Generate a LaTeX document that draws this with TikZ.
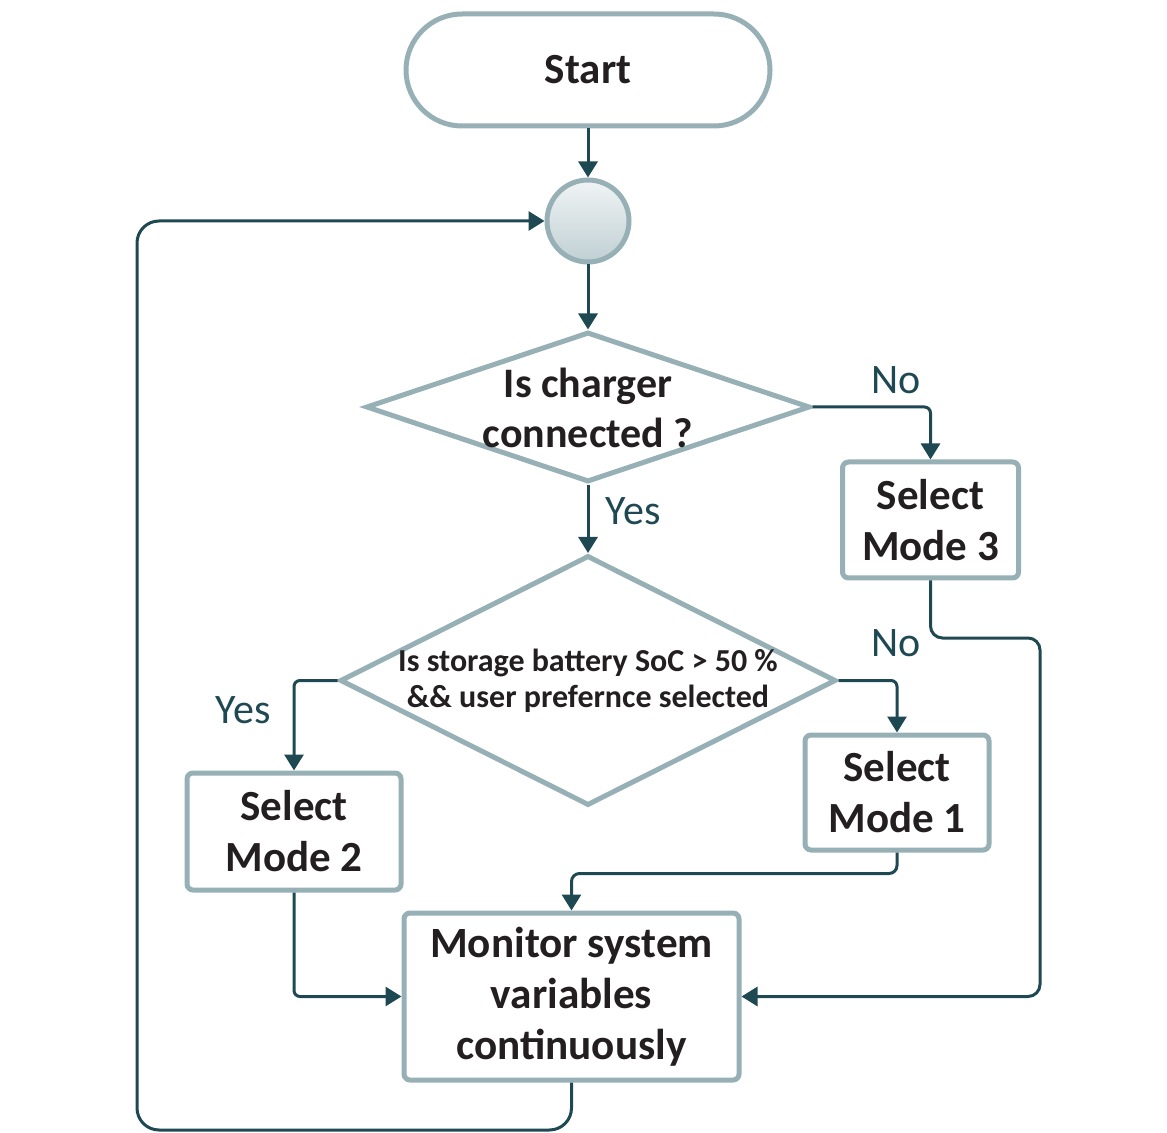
\documentclass[tikz,border=0pt]{standalone}
\usepackage{fontspec}
\setmainfont{Carlito}
\usetikzlibrary{arrows.meta,shapes.geometric}
\definecolor{boxc}{HTML}{96B0B6}
\definecolor{arrc}{HTML}{1E4852}
\definecolor{txtc}{HTML}{231F20}
\begin{document}
\begin{tikzpicture}[x=0.5pt,y=-0.5pt,
  box/.style={draw=boxc,line width=2.5pt,fill=white,rounded corners=3pt,align=center,
    font=\bfseries\fontsize{21.5}{25.5}\selectfont,text=txtc,inner sep=0pt},
  dia/.style={diamond,draw=boxc,line width=2.5pt,inner sep=0pt},
  conn/.style={draw=arrc,line width=1.5pt,-{Triangle[length=8pt,width=9.5pt]}},
  lab/.style={text=arrc,inner sep=0pt,font=\fontsize{21}{25}\selectfont}]
\useasboundingbox (0,0) rectangle (1167,1133);
% nodes
\node[box,rounded corners=28pt,minimum width=182pt,minimum height=56pt,
  font=\bfseries\fontsize{21.5}{25}\selectfont] (start) at (588,70) {Start};
\node[circle,draw=boxc,line width=2.5pt,minimum size=41pt,inner sep=0pt,
  top color=boxc!14,bottom color=boxc!60] (circ) at (588,221) {};
\node[dia,minimum width=222pt,minimum height=75pt] (d1) at (588,407) {};
\node[align=center,text=txtc,inner sep=0pt,font=\bfseries\fontsize{21}{25}\selectfont] (d1t) at (588,408) {Is charger\\connected ?};
\node[box,minimum width=88pt,minimum height=58pt] (m3) at (930.5,520) {Select\\Mode 3};
\node[dia,minimum width=248pt,minimum height=125pt] (d2) at (588,680.5) {};
\node[align=center,text=txtc,inner sep=0pt,font=\bfseries\fontsize{16}{18}\selectfont] (d2t) at (588,681) {Is storage battery SoC > 50 \%\\\&\& user prefernce selected};
\node[box,minimum width=107pt,minimum height=58.5pt] (m2) at (294,831.5) {Select\\Mode 2};
\node[box,minimum width=92pt,minimum height=57.5pt] (m1) at (897,792.5) {Select\\Mode 1};
\node[box,minimum width=167.5pt,minimum height=83.5pt,font=\bfseries\fontsize{21.6}{25.5}\selectfont] (mon) at (571.5,996.5) {Monitor system\\variables\\continuously};
% labels
\node[lab] (no1) at (896,380) {No};
\node[lab] (yes1) at (633,511) {Yes};
\node[lab] (yes2) at (243,710) {Yes};
\node[lab] (no2) at (896,643) {No};
% connectors
\coordinate (r1) at (1040,638);
\coordinate (l1) at (137,1130);
\draw[conn] (start) -- (circ);
\draw[conn] (circ) -- (d1);
\draw[conn,rounded corners=3pt] (d1.east) -| (m3.north);
\draw[conn] (d1) -- (d2);
\draw[conn,rounded corners=3pt] (d2.west) -| (m2.north);
\draw[conn,rounded corners=3pt] (d2.east) -| (m1.north);
\draw[conn,rounded corners=4pt] (m1.south) -- ++(0,-10.5pt) -| (mon.north);
\draw[conn,rounded corners=6pt] (m3.south) |- (r1) |- (mon.east);
\draw[conn,rounded corners=3pt] (m2.south) |- (mon.west);
\draw[conn,rounded corners=11pt] (mon.south) |- (l1) |- (circ.west);
\end{tikzpicture}
\end{document}
